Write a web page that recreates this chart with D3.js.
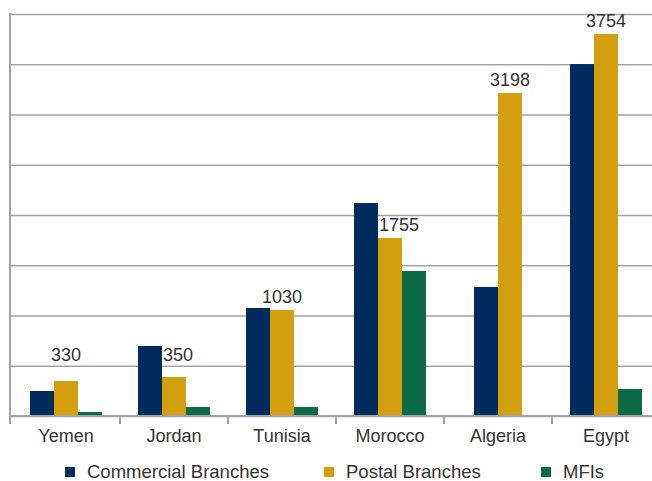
<!DOCTYPE html>
<html>
<head>
<meta charset="utf-8">
<script src="https://cdn.jsdelivr.net/npm/d3@7"></script>
<style>
  html, body { margin: 0; padding: 0; background: #fff; }
  svg { display: block; font-family: "Liberation Sans", Arial, sans-serif; }
</style>
</head>
<body>
<svg id="chart" width="652" height="481"></svg>
<script>
// ---- data ----
const categories = ["Yemen", "Jordan", "Tunisia", "Morocco", "Algeria", "Egypt"];
const seriesNames = ["Commercial Branches", "Postal Branches", "MFIs"];
const commercial = [249, 697, 1075, 2119, 1284, 3502];
const postal = [348, 388, 1055, 1771, 3214, 3801];
const mfis = [40, 90, 90, 1443, null, 269];
const postalLabels = ["330", "350", "1030", "1755", "3198", "3754"];
const yMax = 4000;
const gridCount = 8;

// ---- layout / style ----
const colors = ["#002B5C", "#D49F0E", "#0C6A46"];
const W = 652, H = 481;
const plotLeft = 10, plotTop = 14, baseY = 416;
const textColor = "#333333";
const gridColor = "#A3A3A3";

const svg = d3.select("#chart");

const y = d3.scaleLinear().domain([0, yMax]).range([baseY, plotTop]);
const x0 = d3.scaleBand().domain(categories).range([plotLeft + 2, plotLeft + 650]);
const barW = x0.bandwidth() * 0.2222;

const seriesValues = [commercial, postal, mfis];

// gridlines
const gridAxis = d3.axisLeft(y).ticks(gridCount).tickSize(-(W - plotLeft + 10)).tickFormat("");
const gG = svg.append("g").attr("transform", `translate(${plotLeft},0)`).call(gridAxis);
gG.select(".domain").remove();
gG.selectAll(".tick line").attr("stroke", gridColor).attr("stroke-width", 1.6);

// left axis line
svg.append("line")
  .attr("x1", plotLeft).attr("x2", plotLeft)
  .attr("y1", plotTop - 1).attr("y2", baseY + 8)
  .attr("stroke", gridColor).attr("stroke-width", 2);

// category tick marks at band boundaries
svg.append("g").selectAll("line")
  .data(categories.slice(1))
  .join("line")
  .attr("x1", d => x0(d)).attr("x2", d => x0(d))
  .attr("y1", baseY).attr("y2", baseY + 8)
  .attr("stroke", gridColor).attr("stroke-width", 2);

// bars
const barData = [];
categories.forEach((c, ci) => {
  const present = seriesValues.map((arr, si) => ({ si, v: arr[ci] })).filter(d => d.v !== null && d.v !== undefined);
  const center = x0(c) + x0.bandwidth() / 2;
  const start = center - present.length * barW / 2;
  present.forEach((d, k) => {
    barData.push({ cat: c, ci, si: d.si, v: d.v, x: start + k * barW });
  });
});

svg.append("g").selectAll("rect")
  .data(barData)
  .join("rect")
  .attr("x", d => d.x)
  .attr("width", barW)
  .attr("y", d => y(d.v))
  .attr("height", d => baseY - y(d.v))
  .attr("fill", d => colors[d.si]);

// baseline (drawn over bars)
svg.append("line")
  .attr("x1", plotLeft).attr("x2", W)
  .attr("y1", baseY).attr("y2", baseY)
  .attr("stroke", gridColor).attr("stroke-width", 2);

// category labels
svg.append("g").selectAll("text")
  .data(categories)
  .join("text")
  .attr("x", d => x0(d) + x0.bandwidth() / 2)
  .attr("y", baseY + 26)
  .attr("text-anchor", "middle")
  .attr("font-size", "18px")
  .attr("fill", textColor)
  .text(d => d);

// data labels on postal bars
const minLabelY = y(yMax / gridCount) - 5;
categories.forEach((c, ci) => {
  const pb = barData.find(b => b.ci === ci && b.si === 1);
  const cb = barData.find(b => b.ci === ci && b.si === 0);
  if (!pb) return;
  const ly = Math.min(y(pb.v) - 7, minLabelY);
  const t = svg.append("text")
    .attr("y", ly)
    .attr("text-anchor", "middle")
    .attr("font-size", "18px")
    .attr("fill", textColor)
    .text(postalLabels[ci]);
  let cx = pb.x + barW / 2;
  const w = t.node().getComputedTextLength();
  if (cb && y(cb.v) < ly && cx - w / 2 < cb.x + barW) {
    cx = cb.x + barW + 1 + w / 2;
  }
  t.attr("x", cx);
});

// legend
const legendX = [65, 324, 541];
const lg = svg.append("g").selectAll("g")
  .data(seriesNames)
  .join("g")
  .attr("transform", (d, i) => `translate(${legendX[i]},467)`);
lg.append("rect").attr("width", 10).attr("height", 10).attr("fill", (d, i) => colors[i]);
lg.append("text")
  .attr("x", 22).attr("y", 11)
  .attr("font-size", "18.5px")
  .attr("fill", textColor)
  .text(d => d);
</script>
</body>
</html>
